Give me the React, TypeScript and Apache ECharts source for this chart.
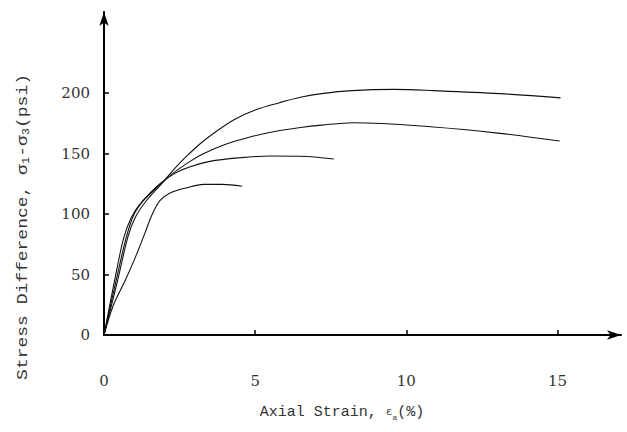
import React, { useEffect, useRef } from "react";
import * as echarts from "echarts";

// Axial strain (%) and stress difference (psi)
const curveAStrain = [0, 0.45, 0.8, 1.05, 1.4, 1.9, 2.35, 2.7, 3.2, 3.7, 4.3, 5.0, 5.8, 6.5, 7.2, 8.2, 9.6, 10.9, 13.1, 15.1];
const curveAStress = [0, 45, 82, 98, 111, 125, 138, 147, 158.5, 168, 178, 186, 192, 196.5, 199.5, 202, 203, 202, 199.5, 196];

const curveBStrain = [0, 0.35, 0.65, 0.9, 1.25, 1.8, 2.3, 2.85, 3.3, 4.0, 4.8, 5.6, 6.5, 7.2, 8.25, 10.9, 13.1, 15.07];
const curveBStress = [0, 45, 80, 97, 110, 123, 134, 143.5, 150, 157.5, 163.5, 168, 171.5, 173.5, 175.5, 172, 166.7, 160.3];

const curveCStrain = [0, 0.4, 0.75, 1.0, 1.3, 1.8, 2.3, 2.85, 3.5, 4.5, 5.5, 6.5, 7.6];
const curveCStress = [0, 45, 82, 100, 111, 124, 133, 139, 143.5, 146.5, 148, 147.8, 145.5];

const curveDStrain = [0, 0.3, 0.7, 1.05, 1.35, 1.6, 1.85, 2.2, 2.7, 3.3, 3.9, 4.57];
const curveDStress = [0, 24, 45, 65, 84, 100, 111, 117.5, 121.5, 124.5, 124.5, 123];

const xTickLabels = [0, 5, 10, 15];
const xTicks = [5, 10, 15];
const yTickLabels = [0, 50, 100, 150, 200];
const yTicks = [50, 100, 150, 200];

const pairs = (xs: number[], ys: number[]) => xs.map((x, i) => [x, ys[i]]);

export default function App() {
  const ref = useRef<HTMLDivElement>(null);
  useEffect(() => {
    document.body.style.margin = "0";
    const chart = echarts.init(ref.current!, null, { renderer: "svg" });
    const lineSeries = (name: string, xs: number[], ys: number[]) => ({
      name,
      type: "line",
      data: pairs(xs, ys),
      showSymbol: false,
      symbol: "none",
      smooth: 0.35,
      lineStyle: { color: "#111", width: 1.1 },
      z: 3,
    });
    chart.setOption({
      animation: false,
      backgroundColor: "#fff",
      grid: { left: 104, right: 6, top: 12, bottom: 97 },
      xAxis: {
        type: "value",
        min: 0,
        max: 17.1,
        interval: 5,
        splitLine: { show: false },
        axisLine: {
          show: true,
          onZero: false,
          symbol: ["none", "arrow"],
          symbolSize: [7, 14],
          lineStyle: { color: "#000", width: 2 },
        },
        axisTick: { show: true, inside: true, length: 5, customValues: xTicks, lineStyle: { color: "#000", width: 1.5 } },
        axisLabel: {
          customValues: xTickLabels,
          margin: 38,
          color: "#333",
          fontFamily: "DejaVu Serif",
          fontSize: 15,
        },
      },
      yAxis: {
        type: "value",
        min: 0,
        max: 267,
        interval: 50,
        splitLine: { show: false },
        axisLine: {
          show: true,
          onZero: false,
          symbol: ["none", "arrow"],
          symbolSize: [7, 14],
          lineStyle: { color: "#000", width: 2 },
        },
        axisTick: { show: true, inside: true, length: 5, customValues: yTicks, lineStyle: { color: "#000", width: 1.5 } },
        axisLabel: {
          customValues: yTickLabels,
          margin: 14,
          color: "#333",
          fontFamily: "DejaVu Serif",
          fontSize: 15,
        },
      },
      graphic: [
        {
          type: "text",
          x: 342,
          y: 412,
          style: {
            text: "Axial Strain, {eps|ε}{sub|a}(%)",
            fill: "#333",
            font: "15px 'Liberation Mono'",
            align: "center",
            verticalAlign: "middle",
            rich: {
              eps: { fontFamily: "Liberation Mono", fontSize: 11, fill: "#444" },
              sub: { fontFamily: "Liberation Mono", fontSize: 8, fill: "#444", padding: [10, 0, 0, 0] },
            },
          },
        },
        {
          type: "text",
          x: 23,
          y: 227,
          rotation: Math.PI / 2,
          scaleX: 1.2,
          style: {
            text: "Stress Difference, σ{sub|1}-σ{sub|3}(psi)",
            fill: "#333",
            font: "15px 'Liberation Mono'",
            align: "center",
            verticalAlign: "middle",
            rich: {
              sub: { fontFamily: "Liberation Mono", fontSize: 10, fill: "#333", padding: [6, 0, 0, 0] },
            },
          },
        },
      ],
      series: [
        lineSeries("A", curveAStrain, curveAStress),
        lineSeries("B", curveBStrain, curveBStress),
        lineSeries("C", curveCStrain, curveCStress),
        lineSeries("D", curveDStrain, curveDStress),
      ],
    });
    return () => chart.dispose();
  }, []);
  return <div ref={ref} style={{ position: "absolute", left: 0, top: 0, width: 627, height: 432 }} />;
}
